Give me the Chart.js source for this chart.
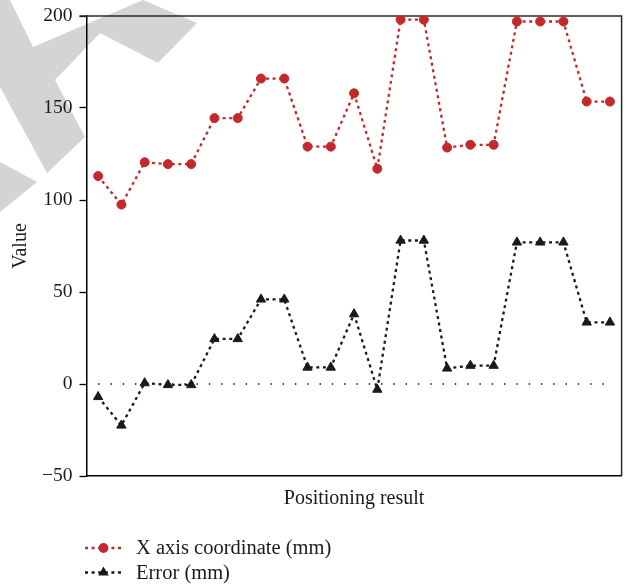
<!DOCTYPE html>
<html>
<head>
<meta charset="utf-8">
<script src="https://cdn.jsdelivr.net/npm/chart.js@4/dist/chart.umd.min.js"></script>
<style>
  html, body { margin: 0; padding: 0; background: #ffffff; }
  #wrap { width: 628px; height: 588px; position: relative; }
</style>
</head>
<body>
<div id="wrap"><canvas id="chart" width="628" height="588"></canvas></div>
<script>
// Measurement sequence (one entry per positioning run)
const runs = ['1','2','3','4','5','6','7','8','9','10','11','12','13','14','15','16','17','18','19','20','21','22','23'];

// Measured X axis coordinate (mm)
const xCoordinate = [113, 97.5, 120.5, 119.5, 119.5, 144.5, 144.5, 166, 166, 129, 129, 158, 117, 198, 198, 128.5, 130, 130, 197, 197, 197, 153.5, 153.5];

// Positioning error (mm)
const errorValues = [-7, -22.5, 0.5, -0.5, -0.5, 24.5, 24.5, 46, 46, 9, 9, 38, -3, 78, 78, 8.5, 10, 10, 77, 77, 77, 33.5, 33.5];

// Zero reference line
const zeroLine = [0, 0, 0, 0, 0, 0, 0, 0, 0, 0, 0, 0, 0, 0, 0, 0, 0, 0, 0, 0, 0, 0, 0];

// Value axis ticks
const yTicks = [-50, 0, 50, 100, 150, 200];

const seriesNames = ['X axis coordinate (mm)', 'Error (mm)'];

const RED = '#c3282b';
const INK = '#1a1a1a';
const SERIF = "'Liberation Serif', 'DejaVu Serif', serif";

// Light grey backdrop shapes in the upper-left corner
const backdrop = {
  id: 'backdrop',
  beforeDraw(chart) {
    const ctx = chart.ctx;
    ctx.save();
    ctx.fillStyle = '#d4d4d4';
    const shapes = [
      [[0,0],[10,0],[33,47],[143,0],[197,23],[158,63],[100,33],[55,80],[85,137],[47,173],[0,87]],
      [[0,162],[37,182],[0,212]]
    ];
    shapes.forEach(pts => {
      ctx.beginPath();
      pts.forEach((p, i) => i ? ctx.lineTo(p[0], p[1]) : ctx.moveTo(p[0], p[1]));
      ctx.closePath();
      ctx.fill();
    });
    ctx.restore();
  }
};

// Top and right edges of the plot frame
const frame = {
  id: 'frame',
  beforeDatasetsDraw(chart) {
    const { ctx, chartArea: a } = chart;
    ctx.save();
    ctx.strokeStyle = '#2a2a2a';
    ctx.lineWidth = 1.5;
    ctx.beginPath();
    ctx.moveTo(a.left - 7, a.top);
    ctx.lineTo(a.right, a.top);
    ctx.lineTo(a.right, a.bottom);
    ctx.stroke();
    ctx.restore();
  }
};

// Legend stacked below the axis title: dotted sample line with marker
const sampleLegend = {
  id: 'sampleLegend',
  afterDraw(chart) {
    const ctx = chart.ctx;
    const x0 = 85, x1 = 122, xm = 103.5, xt = 136;
    const rows = [548, 572.5];
    chart.data.datasets.forEach(ds => {
      if (!ds.legendRow && ds.legendRow !== 0) return;
      const y = rows[ds.legendRow];
      ctx.save();
      ctx.strokeStyle = ds.borderColor;
      ctx.lineWidth = ds.borderWidth;
      ctx.setLineDash(ds.borderDash);
      ctx.beginPath();
      ctx.moveTo(x0, y);
      ctx.lineTo(x1, y);
      ctx.stroke();
      ctx.setLineDash([]);
      ctx.fillStyle = ds.pointBackgroundColor;
      ctx.strokeStyle = ds.pointBorderColor;
      Chart.helpers.drawPoint(ctx, { pointStyle: ds.pointStyle, rotation: 0, radius: 3.8, borderWidth: 1 }, xm, y);
      ctx.fillStyle = INK;
      ctx.font = '20.5px ' + SERIF;
      ctx.textBaseline = 'middle';
      ctx.textAlign = 'left';
      ctx.fillText(ds.label, xt, y + 1);
      ctx.restore();
    });
  }
};

new Chart(document.getElementById('chart'), {
  type: 'line',
  data: {
    labels: runs,
    datasets: [
      {
        label: seriesNames[0],
        legendRow: 0,
        data: xCoordinate,
        borderColor: RED,
        borderWidth: 2.3,
        borderDash: [3, 3.6],
        pointStyle: 'circle',
        pointRadius: 4.5,
        pointBackgroundColor: RED,
        pointBorderColor: RED,
        pointBorderWidth: 1,
        tension: 0,
        order: 1
      },
      {
        label: seriesNames[1],
        legendRow: 1,
        data: errorValues,
        borderColor: INK,
        borderWidth: 2.3,
        borderDash: [3, 3.6],
        pointStyle: 'triangle',
        pointRadius: 5.4,
        pointBackgroundColor: INK,
        pointBorderColor: INK,
        pointBorderWidth: 1,
        tension: 0,
        order: 2
      },
      {
        label: 'zero',
        data: zeroLine,
        borderColor: '#000000',
        borderWidth: 1.4,
        borderDash: [1.4, 10.9],
        pointRadius: 0,
        tension: 0,
        order: 3
      }
    ]
  },
  options: {
    responsive: false,
    devicePixelRatio: 1,
    animation: false,
    layout: { padding: { left: 0, top: 16, right: 4.5, bottom: 77 } },
    plugins: {
      legend: { display: false },
      tooltip: { enabled: false }
    },
    scales: {
      x: {
        type: 'category',
        offset: true,
        grid: { display: false },
        ticks: { display: false },
        border: { display: true, color: '#000000', width: 1.5 },
        title: {
          display: true,
          text: 'Positioning result',
          color: INK,
          font: { family: SERIF, size: 20 },
          padding: 0
        },
        afterFit(scale) { scale.height = 35; }
      },
      y: {
        min: -50,
        max: 200,
        afterBuildTicks(scale) { scale.ticks = yTicks.map(v => ({ value: v })); },
        grid: { display: true, drawOnChartArea: false, drawTicks: true, tickLength: 7, tickColor: '#000000', tickWidth: 1.3 },
        border: { display: true, color: '#000000', width: 1.5 },
        ticks: {
          color: INK,
          padding: 7,
          font: { family: SERIF, size: 19.5, lineHeight: 0.9 },
          callback: v => (v < 0 ? '\u2212' + Math.abs(v) : String(v))
        },
        title: {
          display: true,
          text: 'Value',
          color: INK,
          font: { family: SERIF, size: 20 },
          padding: { top: 9, bottom: 0 }
        },
        afterFit(scale) { scale.width = 86.5; }
      }
    }
  },
  plugins: [backdrop, frame, sampleLegend]
});
</script>
</body>
</html>
